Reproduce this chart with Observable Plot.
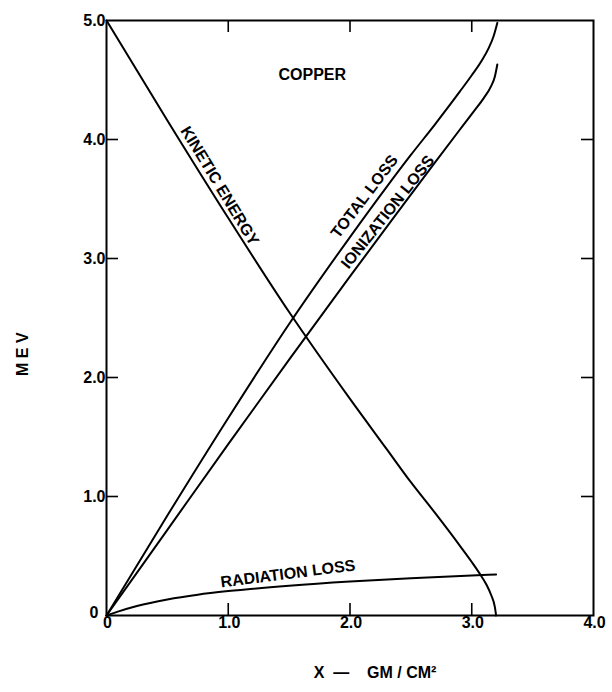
<!DOCTYPE html>
<html>
<head>
<meta charset="utf-8">
<script src="https://cdn.jsdelivr.net/npm/d3@7"></script>
<script src="https://cdn.jsdelivr.net/npm/@observablehq/plot@0.6"></script>
<style>
  html, body { margin: 0; padding: 0; background: #fff; }
</style>
</head>
<body>
<div id="chart"></div>
<script>
// ---- Data (x in gm/cm², y in MeV) ----
const kineticX = [0, 0.5, 1.0, 1.5, 2.0, 2.3, 2.5, 2.7, 2.9, 3.0, 3.06, 3.12, 3.16, 3.19, 3.2];
const kineticY = [5.0, 4.16, 3.34, 2.55, 1.82, 1.40, 1.12, 0.86, 0.59, 0.45, 0.36, 0.26, 0.17, 0.07, 0.0];

const totalX = [0, 0.5, 1.0, 1.5, 2.0, 2.3, 2.5, 2.7, 2.9, 3.0, 3.08, 3.14, 3.18, 3.21];
const totalY = [0, 0.84, 1.66, 2.45, 3.18, 3.60, 3.87, 4.13, 4.40, 4.54, 4.66, 4.77, 4.87, 4.98];

const ionX = [0, 0.5, 1.0, 1.5, 2.0, 2.4, 2.7, 2.9, 3.02, 3.1, 3.16, 3.19, 3.21];
const ionY = [0, 0.72, 1.44, 2.15, 2.85, 3.40, 3.81, 4.08, 4.24, 4.35, 4.45, 4.53, 4.63];

const radX = [0, 0.1, 0.25, 0.5, 0.75, 1.0, 1.5, 2.0, 2.5, 3.0, 3.2];
const radY = [0, 0.035, 0.08, 0.135, 0.175, 0.205, 0.25, 0.285, 0.313, 0.337, 0.345];

const xTicks = [0, 1, 2, 3, 4];
const xTickLabels = ["0", "1.0", "2.0", "3.0", "4.0"];
const yTicks = [1, 2, 3, 4, 5];
const yTickLabels = ["1.0", "2.0", "3.0", "4.0", "5.0"];
const yZeroLabel = ["0"];
const innerXTicks = [1, 2, 3];
const innerYTicks = [1, 2, 3, 4];

const labelText = ["COPPER", "KINETIC ENERGY", "TOTAL LOSS", "IONIZATION LOSS", "RADIATION LOSS"];
const labelX = [1.69, 0.93, 2.12, 2.31, 1.49];
const labelY = [4.54, 3.61, 3.52, 3.39, 0.35];
const labelAngle = [0, 58.8, -52.8, -51.6, -7.3];

const xTitle = "X\u00A0\u00A0\u2014\u00A0\u00A0\u00A0\u00A0GM / CM\u00B2";
const yTitle = "M E V";

// ---- Build tables ----
const series = [
  {name: "Kinetic energy", xs: kineticX, ys: kineticY},
  {name: "Total loss", xs: totalX, ys: totalY},
  {name: "Ionization loss", xs: ionX, ys: ionY},
  {name: "Radiation loss", xs: radX, ys: radY}
];
const lineData = series.flatMap(s => s.xs.map((x, i) => ({series: s.name, x, y: s.ys[i]})));
const labels = labelText.map((t, i) => ({text: t, x: labelX[i], y: labelY[i], angle: labelAngle[i]}));

const FONT = "'Liberation Sans', Arial, sans-serif";
const W = 612, H = 692, ML = 106, MR = 19, MT = 20, MB = 77;
const TICK = 12;
const plotW = W - ML - MR, plotH = H - MT - MB;

const chart = Plot.plot({
  width: W,
  height: H,
  marginLeft: ML,
  marginRight: MR,
  marginTop: MT,
  marginBottom: MB,
  style: {fontFamily: FONT, background: "#fff", color: "#000"},
  x: {domain: [0, 4], axis: null},
  y: {domain: [0, 5], axis: null},
  marks: [
    Plot.frame({stroke: "#000", strokeWidth: 2}),
    // inner ticks (bottom, top, left, right)
    Plot.tickX(innerXTicks, {x: d => d, insetTop: plotH - TICK, stroke: "#000", strokeWidth: 1.6}),
    Plot.tickX(innerXTicks, {x: d => d, insetBottom: plotH - TICK, stroke: "#000", strokeWidth: 1.6}),
    Plot.tickY(innerYTicks, {y: d => d, insetRight: plotW - TICK, stroke: "#000", strokeWidth: 1.6}),
    Plot.tickY(innerYTicks, {y: d => d, insetLeft: plotW - TICK, stroke: "#000", strokeWidth: 1.6}),
    // tick labels
    Plot.text(xTicks, {x: d => d, text: (d, i) => xTickLabels[i], frameAnchor: "bottom", dx: 1, dy: 12, fontSize: 16, fontWeight: "bold", fill: "#000", letterSpacing: "1.5px"}),
    Plot.text(yTicks, {y: d => d, text: (d, i) => yTickLabels[i], frameAnchor: "left", dx: -1, textAnchor: "end", fontSize: 16, fontWeight: "bold", fill: "#000", letterSpacing: "1.5px"}),
    Plot.text(yZeroLabel, {y: 0, text: d => d, frameAnchor: "left", dx: -8, dy: -3, textAnchor: "end", fontSize: 16, fontWeight: "bold", fill: "#000"}),
    // curves
    Plot.line(lineData, {x: "x", y: "y", z: "series", curve: "monotone-x", stroke: "#000", strokeWidth: 2}),
    // curve labels
    Plot.text(labels, {x: "x", y: "y", text: "text", rotate: "angle", fontSize: 16, fontWeight: "bold", fill: "#000", letterSpacing: "3px"}),
    // axis titles
    Plot.text([yTitle], {text: d => d, frameAnchor: "left", dx: -84, dy: 58, rotate: -90, fontSize: 16, fontWeight: "bold", fill: "#000", letterSpacing: "3px"}),
    Plot.text([xTitle], {text: d => d, frameAnchor: "bottom", dx: 25, dy: 62, fontSize: 16, fontWeight: "bold", fill: "#000", letterSpacing: "3px"})
  ]
});

document.getElementById("chart").appendChild(chart);
</script>
</body>
</html>
